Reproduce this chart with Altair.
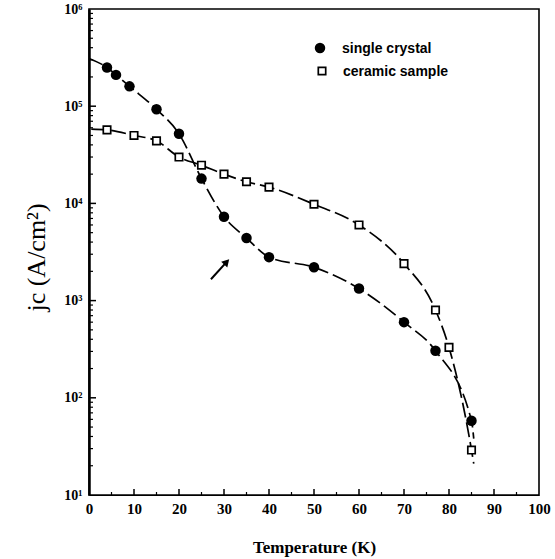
import altair as alt
import pandas as pd

# ---- data ----
sc_T = [4, 6, 9, 15, 20, 25, 30, 35, 40, 50, 60, 70, 77, 85]
sc_j = [2.5e5, 2.1e5, 1.6e5, 9.3e4, 5.2e4, 1.8e4, 7.3e3, 4.4e3, 2.8e3, 2.2e3, 1.33e3, 600, 305, 58]

ce_T = [4, 10, 15, 20, 25, 30, 35, 40, 50, 60, 70, 77, 80, 85]
ce_j = [5.7e4, 5.0e4, 4.4e4, 3.0e4, 2.47e4, 2.0e4, 1.67e4, 1.47e4, 9.8e3, 6.0e3, 2.4e3, 800, 330, 29]

# guide-line end points
sc_line_start = (0, 3.1e5)
sc_line_end = (85.5, 38)
ce_line_start = (0.5, 5.8e4)
ce_line_end = (85.5, 21)

# arrow annotation (tail, head)
arrow_T = [27.1, 30.6]
arrow_j = [1.66e3, 2.5e3]

x_ticks = [0, 10, 20, 30, 40, 50, 60, 70, 80, 90, 100]
y_ticks = [10, 100, 1000, 10000, 100000, 1000000]

legend_labels = ["single crystal", "ceramic sample"]

W, H = 450, 486

xs = alt.Scale(domain=[0, 100], nice=False, zero=False)
ys = alt.Scale(type="log", domain=[10, 1e6], nice=False)

sc_df = pd.DataFrame({"T": sc_T, "j": sc_j})
ce_df = pd.DataFrame({"T": ce_T, "j": ce_j})
sc_line = pd.DataFrame({"T": [sc_line_start[0]] + sc_T + [sc_line_end[0]],
                        "j": [sc_line_start[1]] + sc_j + [sc_line_end[1]]})
ce_line = pd.DataFrame({"T": [ce_line_start[0]] + ce_T + [ce_line_end[0]],
                        "j": [ce_line_start[1]] + ce_j + [ce_line_end[1]]})

sup = {10: "¹", 100: "²", 1000: "³", 10000: "⁴", 100000: "⁵", 1000000: "⁶"}
expr = "''"
for v in sorted(sup, reverse=True):
    expr = f"datum.value == {v} ? '10{sup[v]}' : ({expr})"

x_axis = alt.Axis(values=x_ticks, ticks=False, grid=False, title="Temperature  (K)",
                  labelFont="Liberation Serif", labelFontWeight="bold", labelFontSize=15,
                  labelColor="black", labelPadding=6, labelFlush=False,
                  titleFont="Liberation Serif", titleFontWeight="bold", titleFontSize=17,
                  titleColor="black", titleY=52, titleBaseline="middle",
                  domainColor="black", domainWidth=1)
y_axis = alt.Axis(values=y_ticks, ticks=False, grid=False, title="jc (A/cm²)",
                  labelExpr=expr, labelFont="Liberation Serif", labelFontWeight="bold",
                  labelFontSize=14, labelColor="black", labelPadding=7, labelFlush=False,
                  titleFont="Liberation Serif", titleFontWeight="normal", titleFontSize=26,
                  titleColor="black", titleX=-53, titleY=248, titleAngle=-90,
                  titleBaseline="middle", titleAlign="center",
                  domainColor="black", domainWidth=2.5)

lines_sc = alt.Chart(sc_line).mark_line(color="black", strokeWidth=1.7, strokeDash=[15, 5],
                                        interpolate="monotone").encode(
    x=alt.X("T:Q", scale=xs, axis=x_axis), y=alt.Y("j:Q", scale=ys, axis=y_axis))
lines_ce = alt.Chart(ce_line).mark_line(color="black", strokeWidth=1.7, strokeDash=[15, 5],
                                        interpolate="monotone").encode(
    x=alt.X("T:Q", scale=xs), y=alt.Y("j:Q", scale=ys))

pts_sc = alt.Chart(sc_df).mark_point(shape="circle", filled=True, color="black", size=110,
                                     opacity=1).encode(
    x=alt.X("T:Q", scale=xs), y=alt.Y("j:Q", scale=ys))
pts_ce = alt.Chart(ce_df).mark_point(shape="square", filled=True, fill="white", stroke="black",
                                     strokeWidth=1.7, size=55, opacity=1).encode(
    x=alt.X("T:Q", scale=xs), y=alt.Y("j:Q", scale=ys))

# inward ticks
xmaj = pd.DataFrame({"T": x_ticks[1:-1]})
xmin = pd.DataFrame({"T": [v + 5 for v in x_ticks[:-1]]})
ymaj = pd.DataFrame({"j": y_ticks[1:-1]})
ymin = pd.DataFrame({"j": [m * d for d in y_ticks[:-1] for m in range(2, 10)]})

tk_xmaj = alt.Chart(xmaj).mark_rule(color="black", strokeWidth=1.5).encode(
    x=alt.X("T:Q", scale=xs), y=alt.value(H), y2=alt.value(H - 6))
tk_xmin = alt.Chart(xmin).mark_rule(color="black", strokeWidth=1.2).encode(
    x=alt.X("T:Q", scale=xs), y=alt.value(H), y2=alt.value(H - 3))
tk_ymaj = alt.Chart(ymaj).mark_rule(color="black", strokeWidth=1.5).encode(
    y=alt.Y("j:Q", scale=ys), x=alt.value(0), x2=alt.value(7))
tk_ymin = alt.Chart(ymin).mark_rule(color="black", strokeWidth=1.2).encode(
    y=alt.Y("j:Q", scale=ys), x=alt.value(0), x2=alt.value(4))

# arrow
arr_df = pd.DataFrame({"T": [arrow_T[0]], "j": [arrow_j[0]], "T2": [arrow_T[1]], "j2": [arrow_j[1]]})
arrow_shaft = alt.Chart(arr_df).mark_rule(color="black", strokeWidth=2).encode(
    x=alt.X("T:Q", scale=xs), y=alt.Y("j:Q", scale=ys), x2="T2:Q", y2="j2:Q")
arrow_head = alt.Chart(pd.DataFrame({"T": [arrow_T[1]], "j": [arrow_j[1]]})).mark_point(
    shape="triangle-up", filled=True, color="black", size=70, angle=43, opacity=1).encode(
    x=alt.X("T:Q", scale=xs), y=alt.Y("j:Q", scale=ys))

# legend
leg = pd.DataFrame({"label": legend_labels})
leg_c = alt.Chart(leg.iloc[[0]]).mark_point(shape="circle", filled=True, color="black",
                                            size=110, opacity=1).encode(
    x=alt.value(231), y=alt.value(39))
leg_s = alt.Chart(leg.iloc[[1]]).mark_point(shape="square", filled=True, fill="white",
                                            stroke="black", strokeWidth=1.7, size=55,
                                            opacity=1).encode(
    x=alt.value(233), y=alt.value(62))
leg_t1 = alt.Chart(leg.iloc[[0]]).mark_text(align="left", baseline="middle", font="Liberation Sans",
                                            fontWeight="bold", fontSize=14, color="black").encode(
    x=alt.value(253), y=alt.value(40), text="label:N")
leg_t2 = alt.Chart(leg.iloc[[1]]).mark_text(align="left", baseline="middle", font="Liberation Sans",
                                            fontWeight="bold", fontSize=14, color="black").encode(
    x=alt.value(254), y=alt.value(63), text="label:N")

chart = alt.layer(
    lines_sc, lines_ce, tk_xmaj, tk_xmin, tk_ymaj, tk_ymin,
    pts_sc, pts_ce, arrow_shaft, arrow_head, leg_c, leg_s, leg_t1, leg_t2
).properties(
    width=W, height=H,
    autosize=alt.AutoSizeParams(type="none"),
    padding={"left": 89, "top": 9, "right": 16, "bottom": 64},
    background="white"
).configure_view(stroke="black", strokeWidth=1.6)

chart.save("out.html", embed_options={"renderer": "svg", "actions": False})
